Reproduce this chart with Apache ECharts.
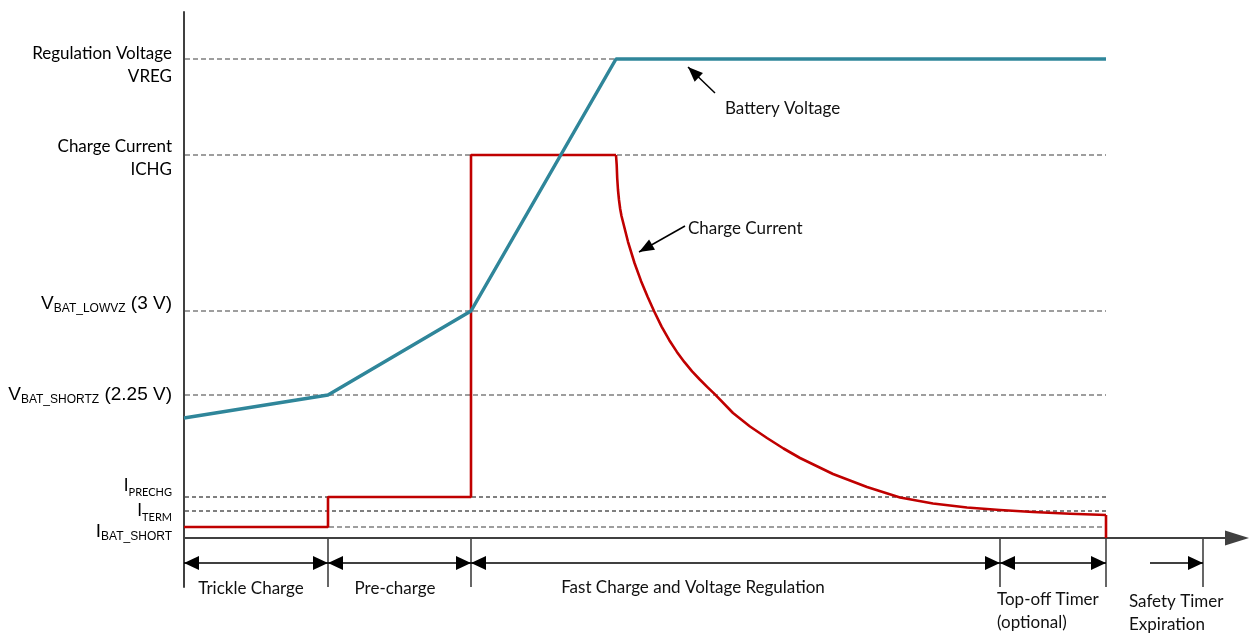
<!DOCTYPE html>
<html><head><meta charset="utf-8">
<script src="https://cdn.jsdelivr.net/npm/echarts@6/dist/echarts.min.js"></script>
<style>html,body{margin:0;padding:0;background:#fff}#c{width:1249px;height:635px}</style>
</head><body><div id="c"></div>
<script>
// ---------- data (time and level in arbitrary diagram units) ----------
const voltageTime  = [0, 144, 287, 432, 922];
const voltageLevel = [120, 143, 227, 479, 479];

const currentTime  = [0, 144, 144, 287, 287, 432];
const currentLevel = [11, 11, 41, 41, 383, 383];

const taperTime  = [432, 432.5, 432.7, 433.2, 434, 435, 436.2, 437.5, 444, 450.5, 457, 463.5, 470,
                    477.6, 485.3, 492.9, 500.5, 508.1, 515.8, 523.4, 531, 549, 566, 583, 599.5, 616,
                    649, 683, 716, 749, 783, 816, 849, 886, 922];
const taperLevel = [383, 383, 373, 360, 348, 338, 329, 322, 296.2, 275, 257.1, 241.5, 227,
                    211.4, 197.8, 186.1, 175.8, 166.7, 158.5, 150.9, 143.6, 125, 111.5, 100, 89.5, 80,
                    64, 51, 40.5, 34.5, 30.5, 28, 26, 24.2, 23];

const terminationTime  = [922, 922];
const terminationLevel = [23, 0];

const thresholdValues = [479, 383, 227, 143, 41, 27, 11];
const thresholdLabels = [
  '{c|Regulation Voltage}\n{c|VREG}',
  '{c|Charge Current}\n{c|ICHG}',
  '{a|V}{as|BAT_LOWVZ}{a| (3 V)}',
  '{a|V}{as|BAT_SHORTZ}{a| (2.25 V)}',
  '{c|I}{cs|PRECHG}',
  '{c|I}{cs|TERM}',
  '{a|I}{as|BAT_SHORT}'
];
const thresholdEnd = 922;

const phaseBounds = [0, 144, 287, 816, 922, 1019];
const phaseArrowStart = [0, 144, 287, 816, 966];
const phaseArrowEnd   = [144, 287, 816, 922, 1019];
const phaseArrowBoth  = [true, true, true, true, false];
const phaseNames = ['Trickle Charge', 'Pre-charge', 'Fast Charge and Voltage Regulation',
                    'Top-off Timer\n(optional)', 'Safety Timer\nExpiration'];

const annotationNames = ['Battery Voltage', 'Charge Current'];
const annotationTail  = [[531, 445], [501, 312]];
const annotationTip   = [[504, 471], [455, 286]];

// ---------- layout / style ----------
const CAL = 'Lato';
const ARI = 'Liberation Sans';
const RICH = {
  c:  {fontFamily: CAL, fontSize: 17, lineHeight: 23, color: '#111'},
  cs: {fontFamily: CAL, fontSize: 11, lineHeight: 12, verticalAlign: 'bottom', color: '#111'},
  a:  {fontFamily: ARI, fontSize: 19, lineHeight: 22, color: '#111'},
  as: {fontFamily: ARI, fontSize: 12, lineHeight: 13, verticalAlign: 'bottom', color: '#111'}
};
const labelShift = [6, 3, -7, 0, -11, 0, 5];
const dashStyle = [0,1,2,3,6].reduce((o,k)=>(o[k]={stroke:'#7f7f7f',lineWidth:1.5,lineDash:[5,3]},o),{});
dashStyle[4] = {stroke:'#000', lineWidth:1, lineDash:[4,3]};
dashStyle[5] = {stroke:'#000', lineWidth:1, lineDash:[4,3]};
const phaseLabelAnchor = [67, 211, 509, 813, 945];
const phaseLabelAlign = ['center','center','center','left','left'];
const phaseLabelDy = [51, 51, 50, 73, 75];
const annotationTextLeft = [[541, 429], [504, 309]];
const GREY = '#404040';
const TEAL = '#2f869a';
const RED = '#c00000';

function pairs(xs, ys) { return xs.map((x, i) => [x, ys[i]]); }
function arrowHead(tip, from, len, w, color) {
  const dx = tip[0]-from[0], dy = tip[1]-from[1], d = Math.hypot(dx, dy);
  const ux = dx/d, uy = dy/d;
  const bx = tip[0]-ux*len, by = tip[1]-uy*len;
  return {type:'polygon', shape:{points:[[tip[0],tip[1]],[bx-uy*w/2, by+ux*w/2],[bx+uy*w/2, by-ux*w/2]]},
          style:{fill: color}};
}

const chart = echarts.init(document.getElementById('c'), null, {renderer: 'canvas'});
chart.setOption({
  animation: false,
  backgroundColor: '#fff',
  grid: {left: 184, top: 12, width: 1053, height: 575},
  xAxis: {type: 'value', min: 0, max: 1053,
    axisLine: {show: true, onZero: true, symbol: ['none', 'triangle'], symbolSize: [15, 24],
               lineStyle: {color: GREY, width: 2}},
    axisTick: {show: false}, axisLabel: {show: false}, splitLine: {show: false}},
  yAxis: {type: 'value', min: -49, max: 526,
    axisLine: {show: true, lineStyle: {color: GREY, width: 2}},
    axisTick: {show: false}, axisLabel: {show: false}, splitLine: {show: false}},
  series: [
    { // thresholds: dashed lines + left labels
      type: 'custom', clip: false, z: 1,
      data: thresholdValues.map(v => [0, v]),
      renderItem: (params, api) => {
        const i = params.dataIndex, v = thresholdValues[i];
        const p0 = api.coord([0, v]), p1 = api.coord([thresholdEnd, v]);
        return {type: 'group', children: [
          {type: 'line', shape: {x1: p0[0]+1, y1: p0[1], x2: p1[0], y2: p1[1]}, style: Object.assign({fill: null}, dashStyle[i])},
          {type: 'text', x: p0[0]-12, y: p0[1]+labelShift[i],
           style: {text: thresholdLabels[i], rich: RICH, align: 'right', verticalAlign: 'middle'}}
        ]};
      }
    },
    { // phase boundary ticks
      type: 'custom', clip: false, z: 2,
      data: phaseBounds.map(b => [b, 0]),
      renderItem: (params, api) => {
        const b = phaseBounds[params.dataIndex];
        const p0 = api.coord([b, 0]), p1 = api.coord([b, -49]);
        return {type: 'line', shape: {x1: p0[0], y1: p0[1], x2: p1[0], y2: p1[1]},
                style: {stroke: GREY, lineWidth: 1.6}};
      }
    },
    { // phase arrows + labels
      type: 'custom', clip: false, z: 2,
      data: phaseArrowStart.map((s, i) => [s, -25]),
      renderItem: (params, api) => {
        const i = params.dataIndex;
        const a = api.coord([phaseArrowStart[i], -25]), b = api.coord([phaseArrowEnd[i], -25]);
        const kids = [
          {type: 'line', shape: {x1: a[0], y1: a[1], x2: b[0], y2: b[1]}, style: {stroke: '#000', lineWidth: 1.5}},
          arrowHead(b, a, 15, 14, '#000')
        ];
        if (phaseArrowBoth[i]) kids.push(arrowHead(a, b, 15, 14, '#000'));
        const lp = api.coord([phaseLabelAnchor[i], 0]);
        kids.push({type: 'text', x: lp[0], y: lp[1] + phaseLabelDy[i],
          style: {text: phaseNames[i], fontFamily: CAL, fontSize: 17, lineHeight: 23, fill: '#111',
                  align: phaseLabelAlign[i], verticalAlign: 'middle'}});
        return {type: 'group', children: kids};
      }
    },
    { // annotation arrows
      type: 'custom', clip: false, z: 6,
      data: annotationTail,
      renderItem: (params, api) => {
        const i = params.dataIndex;
        const t = api.coord(annotationTail[i]), p = api.coord(annotationTip[i]);
        const tp = api.coord(annotationTextLeft[i]);
        return {type: 'group', children: [
          {type: 'line', shape: {x1: t[0], y1: t[1], x2: p[0], y2: p[1]}, style: {stroke: '#000', lineWidth: 1.5}},
          arrowHead(p, t, 15, 12, '#000'),
          {type: 'text', x: tp[0], y: tp[1], style: {text: annotationNames[i], fontFamily: CAL, fontSize: 17,
            fill: '#111', align: 'left', verticalAlign: 'middle'}}
        ]};
      }
    },
    {name: 'Battery Voltage', type: 'line', z: 5, symbol: 'none', data: pairs(voltageTime, voltageLevel),
     lineStyle: {color: TEAL, width: 3.5}},
    {name: 'Charge Current', type: 'line', z: 4, symbol: 'none', data: pairs(currentTime, currentLevel),
     lineStyle: {color: RED, width: 2.6}},
    {name: 'Charge Current taper', type: 'line', z: 4, symbol: 'none',
     data: pairs(taperTime, taperLevel), lineStyle: {color: RED, width: 2.6, join: 'round'}},
    {name: 'Termination', type: 'line', z: 4, symbol: 'none', data: pairs(terminationTime, terminationLevel),
     lineStyle: {color: RED, width: 2.6}}
  ]
});
</script></body></html>
